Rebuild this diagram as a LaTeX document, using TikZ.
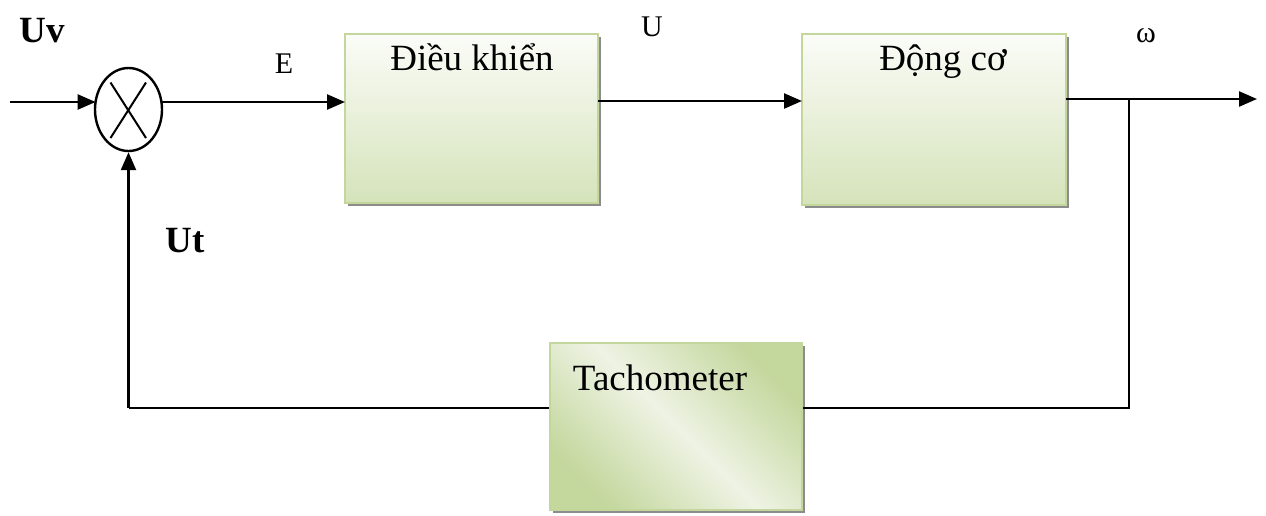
\documentclass[tikz,border=0pt]{standalone}
\usepackage{fontspec}
\setmainfont{Liberation Serif}
\usetikzlibrary{arrows.meta,shapes.geometric,shadows,calc}

\definecolor{boxedge}{HTML}{C3D69B}
\definecolor{boxfill}{HTML}{D5E3BA}
\definecolor{boxlight}{HTML}{FBFCF8}
\definecolor{tachlight}{HTML}{EEF3E4}
\definecolor{tachdark}{HTML}{C4D79D}

\tikzset{
  wire/.style={line width=2.4pt, draw=black},
  flow/.style={wire, -{Triangle[length=18pt,width=15pt]}},
  block/.style={rectangle, draw=boxedge, line width=2.4pt,
    drop shadow={shadow xshift=3pt, shadow yshift=-3pt, fill=black!45, opacity=1}},
  vblock/.style={block, top color=boxlight, bottom color=boxfill, middle color=boxlight!50!boxfill},
  dblock/.style={block, left color=tachdark, right color=tachdark, middle color=tachlight, shading angle=135},
  summer/.style={ellipse, draw, line width=2.4pt, inner sep=0pt,
    minimum width=67pt, minimum height=83pt},
  big/.style={font=\fontsize{37}{40}\selectfont, inner sep=0pt, anchor=base},
  bigb/.style={font=\fontsize{37}{40}\selectfont\bfseries, inner sep=0pt, anchor=base},
  small/.style={font=\fontsize{30}{32}\selectfont, inner sep=0pt, anchor=base},
}

\begin{document}
\begin{tikzpicture}[x=1pt, y=-1pt]
\useasboundingbox (0,0) rectangle (1266,515);

% summing junction
\node[summer] (sum) at (128.5,109.5) {};
\draw[line width=2pt] ($(sum.center)+(-18,-27)$) -- ($(sum.center)+(17.5,28.5)$);
\draw[line width=2pt] ($(sum.center)+(17.5,-27)$) -- ($(sum.center)+(-18,28.5)$);
\coordinate (sumW) at ($(sum.center)+(-32.9,-7.5)$);
\coordinate (sumE) at ($(sum.center)+(32.9,-7.5)$);

% blocks
\node[vblock, minimum width=253pt, minimum height=169pt] (ctrl) at (471.5,118.5) {};
\node[vblock, minimum width=264pt, minimum height=171pt] (motor) at (934,119.5) {};
\node[dblock, minimum width=252pt, minimum height=167pt] (tacho) at (676,426.5) {};

\node[big] (ctrlT) at (472,70) {Điều khiển};
\node[big] (motorT) at (943,70) {Động cơ};
\node[big] (tachoT) at (660,390) {Tachometer};

% signal labels
\node[bigb] (lUv) at (42.5,42) {Uv};
\node[small] (lE) at (284,73) {E};
\node[small] (lU) at (652,36) {U};
\node[small] (lw) at (1146,42) {ω};
\node[bigb] (lUt) at (185,252) {Ut};

% connection points
\coordinate (in) at (10,102);
\coordinate (ctrlIn) at (345,102);
\coordinate (ctrlOut) at (598,101);
\coordinate (motorIn) at (802,101);
\coordinate (motorOut) at (1066,99);
\coordinate (out) at (1257,99);
\coordinate (br) at (1129,99);
\coordinate (fr) at (1129,408);
\coordinate (fl) at (128.5,408);

% forward path
\draw[flow] (in) -- (sumW);
\draw[flow] (sumE) -- (ctrlIn);
\draw[flow] (ctrlOut) -- (motorIn);
\draw[flow] (motorOut) -- (out);

% feedback path
\draw[wire] (br) -- (fr) -- (fr -| tacho.east);
\draw[wire] (fl -| tacho.west) -- (fl);
\draw[flow] (fl) -- (sum.south);
\end{tikzpicture}
\end{document}
